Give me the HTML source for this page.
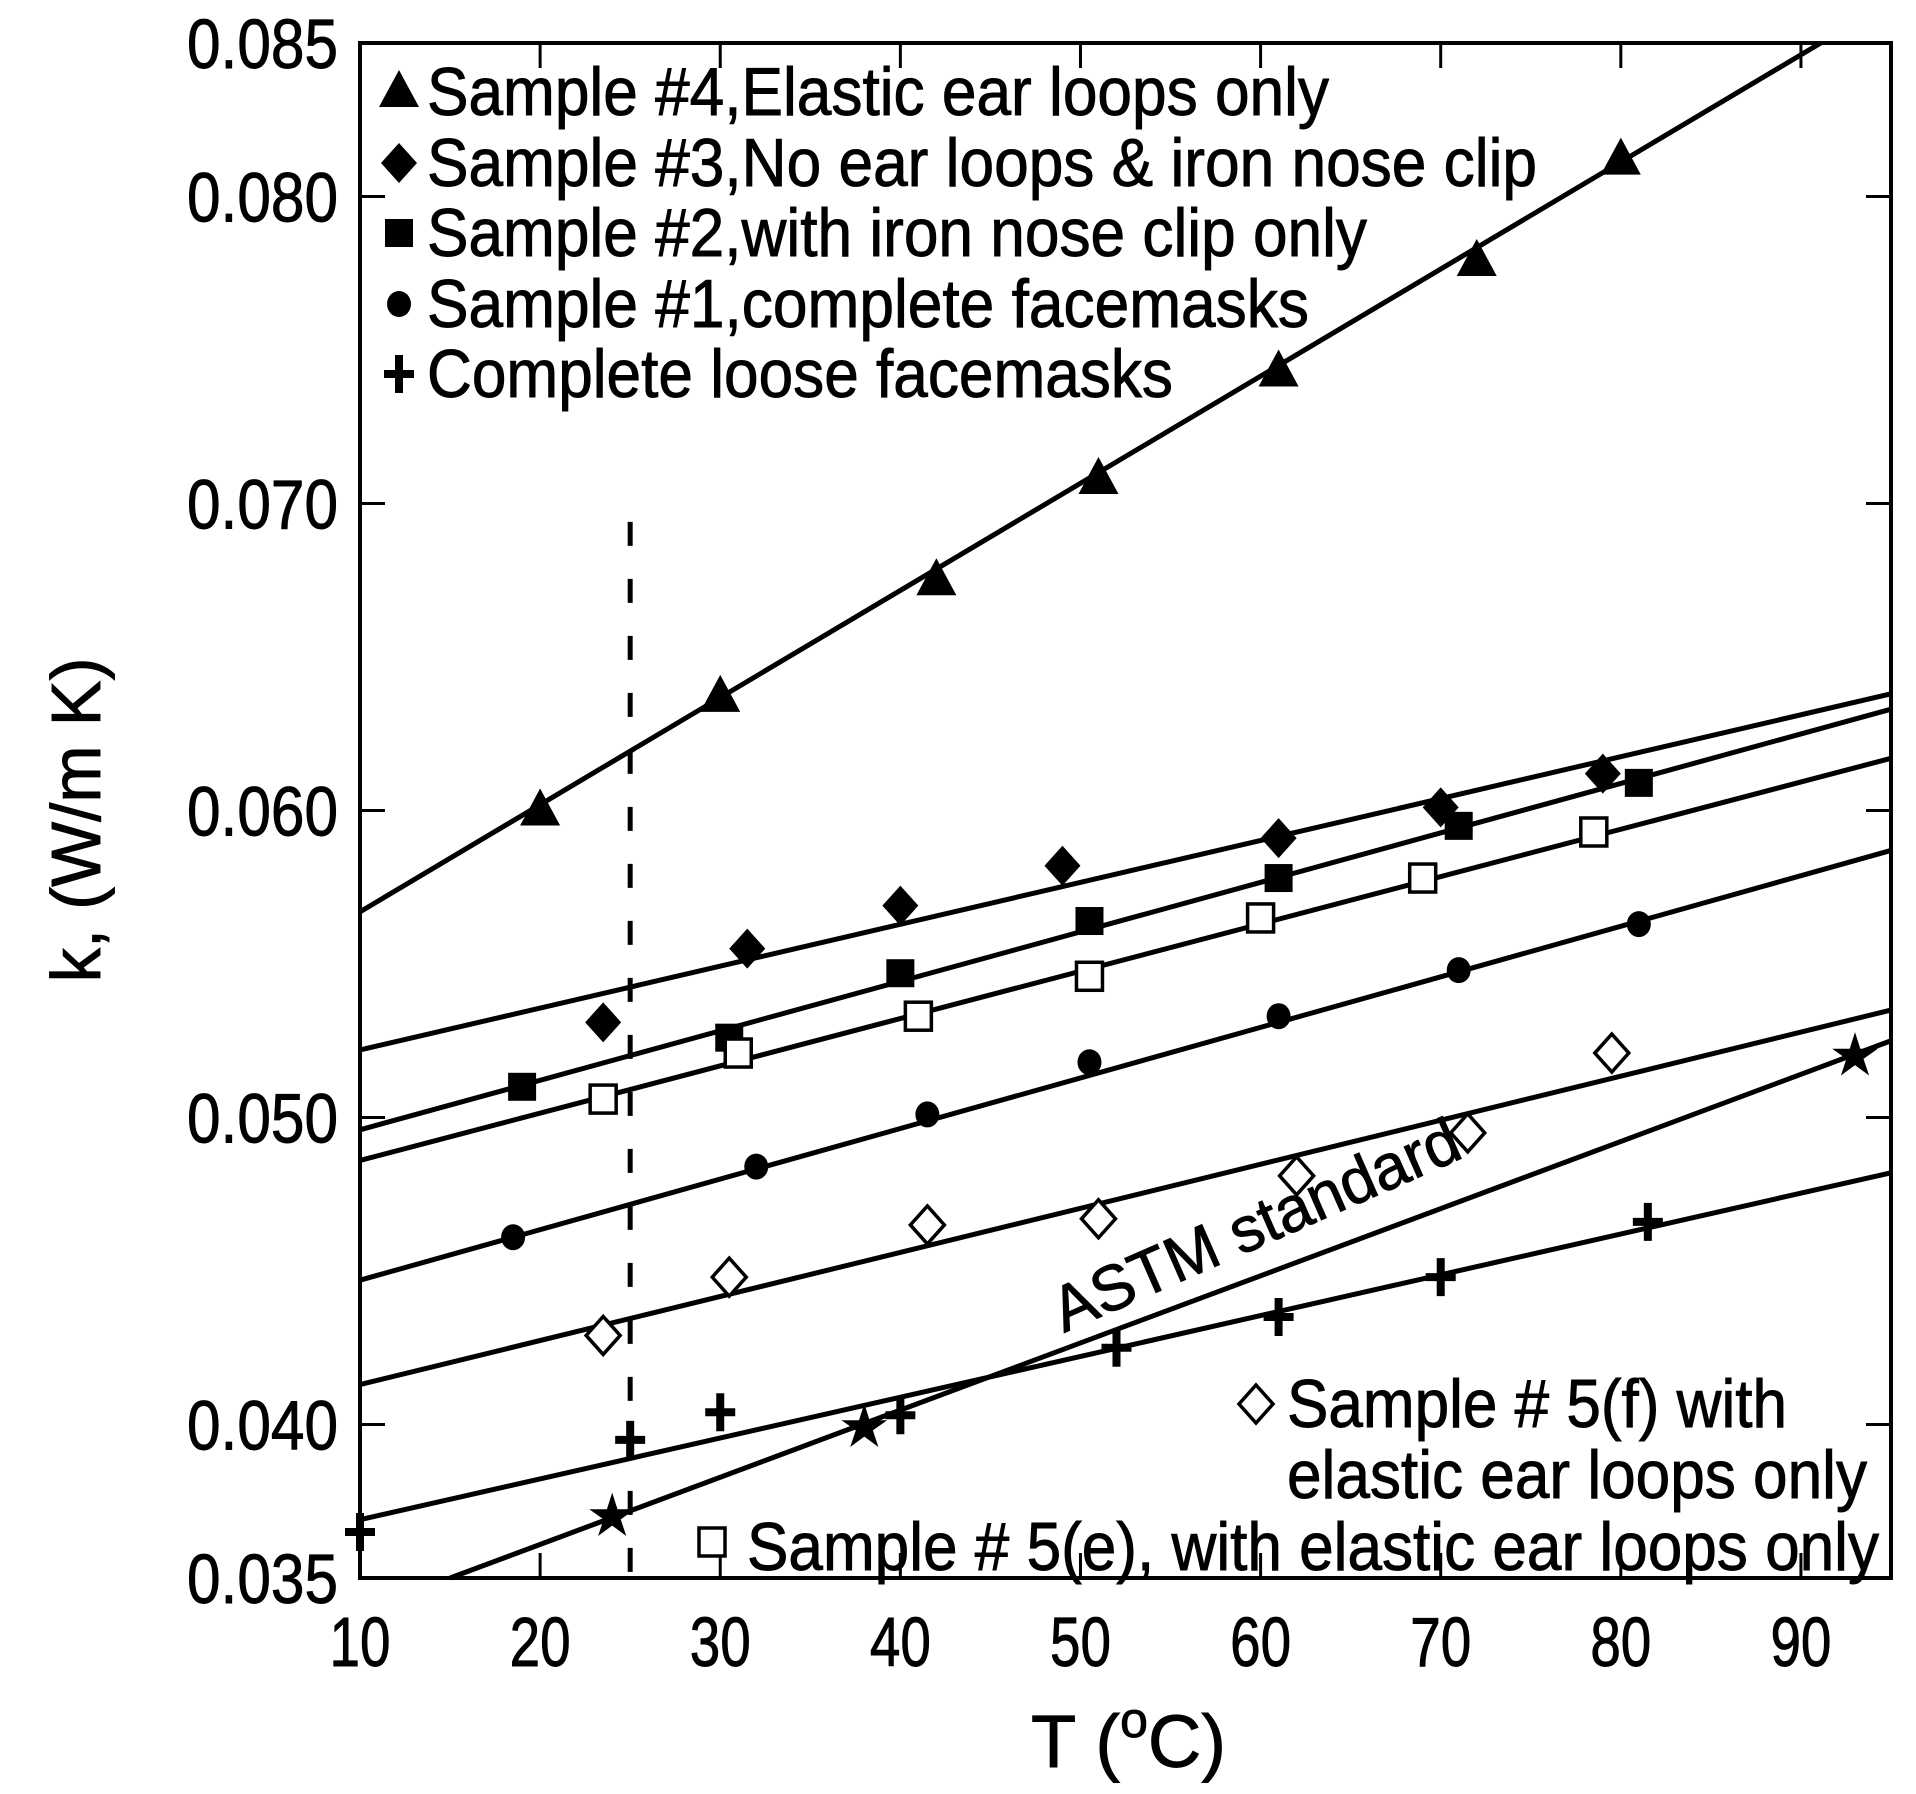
<!DOCTYPE html>
<html><head><meta charset="utf-8"><style>
html,body{margin:0;padding:0;background:#fff}
svg{display:block}
text{font-family:"Liberation Sans",Arial,sans-serif;fill:#000;stroke:#000;stroke-width:0.9}
</style></head><body>
<svg id="chart" width="1916" height="1794" viewBox="0 0 1916 1794" xmlns="http://www.w3.org/2000/svg">
<g id="plot"></g>
<g id="axes"></g>
<g id="legend"></g>
</svg>
<script>
const xTicks = [10,20,30,40,50,60,70,80,90];
const yTicks = [0.085,0.080,0.070,0.060,0.050,0.040,0.035];
const yTickLabels = ["0.085","0.080","0.070","0.060","0.050","0.040","0.035"];

const s4x = [20,30,42,51,61,72,80];
const s4y = [0.0600,0.0637,0.0675,0.0708,0.0743,0.0779,0.0812];
const s3x = [23.5,31.5,40,49,61,70,79];
const s3y = [0.0531,0.0555,0.0569,0.0582,0.0591,0.0601,0.0612];
const s2x = [19,30.5,40,50.5,61,71,81];
const s2y = [0.0510,0.0526,0.0547,0.0564,0.0578,0.0595,0.0609];
const s5ex = [23.5,31,41,50.5,60,69,78.5];
const s5ey = [0.0506,0.0521,0.0533,0.0546,0.0565,0.0578,0.0593];
const s1x = [18.5,32,41.5,50.5,61,71,81];
const s1y = [0.0461,0.0484,0.0501,0.0518,0.0533,0.0548,0.0563];
const s5fx = [23.5,30.5,41.5,51,62,71.5,79.5];
const s5fy = [0.0429,0.0448,0.0465,0.0467,0.0481,0.0495,0.0521];
const loosex = [10,25,30,40,52,61,70,81.5];
const loosey = [0.0365,0.0395,0.0404,0.0403,0.0425,0.0435,0.0448,0.0466];
const astmx = [24,38,93];
const astmy = [0.0370,0.0399,0.0520];

const fit4 = [10,0.0567,91.1,0.0850];
const fit3 = [10,0.0522,95,0.0638];
const fit2 = [10,0.0496,95,0.0633];
const fit5e = [10,0.0486,95,0.0617];
const fit1 = [10,0.0447,95,0.0587];
const fit5f = [10,0.0413,95,0.0535];
const fitLoose = [10,0.0369,95,0.0482];
const fitAstm = [15,0.0350,95,0.0525];
const refT = [25, 0.0694];

const L=360,R=1891,T=43,B=1578;
const xMin=10,xMax=95,yMin=0.035,yMax=0.085;
const X=v=>L+(v-xMin)/(xMax-xMin)*(R-L);
const Y=v=>B-(v-yMin)/(yMax-yMin)*(B-T);
const NS="http://www.w3.org/2000/svg";
function mk(tag,attrs,parent){const e=document.createElementNS(NS,tag);for(const k in attrs)e.setAttribute(k,attrs[k]);parent.appendChild(e);return e;}
const plot=document.getElementById('plot'),axes=document.getElementById('axes'),legend=document.getElementById('legend');

function fitLine(f,name){
  const l=mk('line',{x1:X(f[0]),y1:Y(f[1]),x2:X(f[2]),y2:Y(f[3]),stroke:'#000','stroke-width':5},plot);
  
  
}
fitLine(fit4,'fit-line-sample-4');fitLine(fit3,'fit-line-sample-3');fitLine(fit2,'fit-line-sample-2');
fitLine(fit5e,'fit-line-sample-5e');fitLine(fit1,'fit-line-sample-1');fitLine(fit5f,'fit-line-sample-5f');
fitLine(fitLoose,'fit-line-loose');fitLine(fitAstm,'fit-line-astm');

const dl=mk('line',{x1:X(refT[0]),y1:Y(refT[1]),x2:X(refT[0]),y2:B,stroke:'#000','stroke-width':5,'stroke-dasharray':'24 33'},plot);



function marker(type,cx,cy,parent){
  let e;
  if(type==='tri') e=mk('polygon',{points:`${cx},${cy-22} ${cx-20},${cy+15} ${cx+20},${cy+15}`,fill:'#000'},parent);
  else if(type==='dia') e=mk('polygon',{points:`${cx},${cy-20} ${cx+18},${cy} ${cx},${cy+20} ${cx-18},${cy}`,fill:'#000'},parent);
  else if(type==='odia') e=mk('polygon',{points:`${cx},${cy-19} ${cx+17},${cy} ${cx},${cy+19} ${cx-17},${cy}`,fill:'#fff',stroke:'#000','stroke-width':3.5},parent);
  else if(type==='sq') e=mk('rect',{x:cx-14,y:cy-14,width:28,height:28,fill:'#000'},parent);
  else if(type==='osq') e=mk('rect',{x:cx-13,y:cy-14,width:26,height:28,fill:'#fff',stroke:'#000','stroke-width':3.5},parent);
  else if(type==='cir') e=mk('ellipse',{cx:cx,cy:cy,rx:12,ry:13,fill:'#000'},parent);
  else if(type==='plus') e=mk('path',{d:`M${cx-15},${cy}H${cx+15}M${cx},${cy-19}V${cy+19}`,stroke:'#000','stroke-width':8,fill:'none'},parent);
  else if(type==='star'){let p=[];for(let i=0;i<10;i++){const r=i%2?9:24,a=-Math.PI/2+i*Math.PI/5;p.push((cx+r*Math.cos(a)).toFixed(1)+','+(cy+r*Math.sin(a)).toFixed(1));}
    e=mk('polygon',{points:p.join(' '),fill:'#000'},parent);}
  return e;
}
function series(xs,ys,type,name){
  const g=mk('g',{},plot);
  
  
  xs.forEach((x,i)=>{const m=marker(type,X(x),Y(ys[i]),g);
    
    });
}
series(s4x,s4y,'tri','series-sample-4');series(s3x,s3y,'dia','series-sample-3');
series(s2x,s2y,'sq','series-sample-2');series(s5ex,s5ey,'osq','series-sample-5e');
series(s1x,s1y,'cir','series-sample-1');series(s5fx,s5fy,'odia','series-sample-5f');
series(loosex,loosey,'plus','series-loose');series(astmx,astmy,'star','series-astm');

const fr=mk('rect',{x:L,y:T,width:R-L,height:B-T,fill:'none',stroke:'#000','stroke-width':4},axes);

xTicks.forEach(v=>{
  mk('line',{x1:X(v),y1:B,x2:X(v),y2:B-25,stroke:'#000','stroke-width':3},axes);
  mk('line',{x1:X(v),y1:T,x2:X(v),y2:T+25,stroke:'#000','stroke-width':3},axes);
  const t=mk('text',{x:X(v),y:1666,'font-size':70,'text-anchor':'middle',textLength:61,lengthAdjust:'spacingAndGlyphs'},axes);
  t.textContent=String(v);
  
  
});
yTicks.forEach((v,i)=>{
  mk('line',{x1:L,y1:Y(v),x2:L+25,y2:Y(v),stroke:'#000','stroke-width':3},axes);
  mk('line',{x1:R,y1:Y(v),x2:R-25,y2:Y(v),stroke:'#000','stroke-width':3},axes);
  const t=mk('text',{x:338,y:Y(v)+25,'font-size':70,'text-anchor':'end',textLength:151,lengthAdjust:'spacingAndGlyphs'},axes);
  t.textContent=yTickLabels[i];
  
  
});

function txt(s,x,y,fs,len,name,extra){const t=document.createElementNS(NS,'text');t.setAttribute('x',x);t.setAttribute('y',y);t.setAttribute('font-size',fs);
 if(len){t.setAttribute('textLength',len);t.setAttribute('lengthAdjust','spacingAndGlyphs');}
 if(extra)for(const k in extra)t.setAttribute(k,extra[k]);
 t.textContent=s;legend.appendChild(t);
 
 return t;}
const legRows=[["tri","Sample #4,Elastic ear loops only",115,902],["dia","Sample #3,No ear loops & iron nose clip",186,1110],["sq","Sample #2,with iron nose clip only",256,940],["cir","Sample #1,complete facemasks",327,882],["plus","Complete loose facemasks",397,746]];
legRows.forEach(r=>{const m=marker(r[0],399,r[2]-23,legend);
 
 
 txt(r[1],427,r[2],68,r[3],'legend-entry');});
const m5f=marker('odia',1256,1404,legend);


txt('Sample # 5(f) with',1287,1427,68,500,'legend-entry-5f');
txt('elastic ear loops only',1287,1498,68,580,'legend-entry-5f-cont');
const m5e=marker('osq',712,1542,legend);


txt('Sample # 5(e), with elastic ear loops only',747,1570,68,1132,'legend-entry-5e');
txt('ASTM standard',0,0,64,438,'astm-standard-label',{transform:'translate(1064,1333) rotate(-23.7)'});
txt('k, (W/m K)',0,0,70,325,'y-axis-title',{transform:'translate(100,820) rotate(-90)','text-anchor':'middle'});
const xt=txt('',1031,1767,74,null,'x-axis-title');
xt.innerHTML='T (<tspan dy="-30" font-size="50">o</tspan><tspan dy="30">C)</tspan>';
</script>
</body></html>
